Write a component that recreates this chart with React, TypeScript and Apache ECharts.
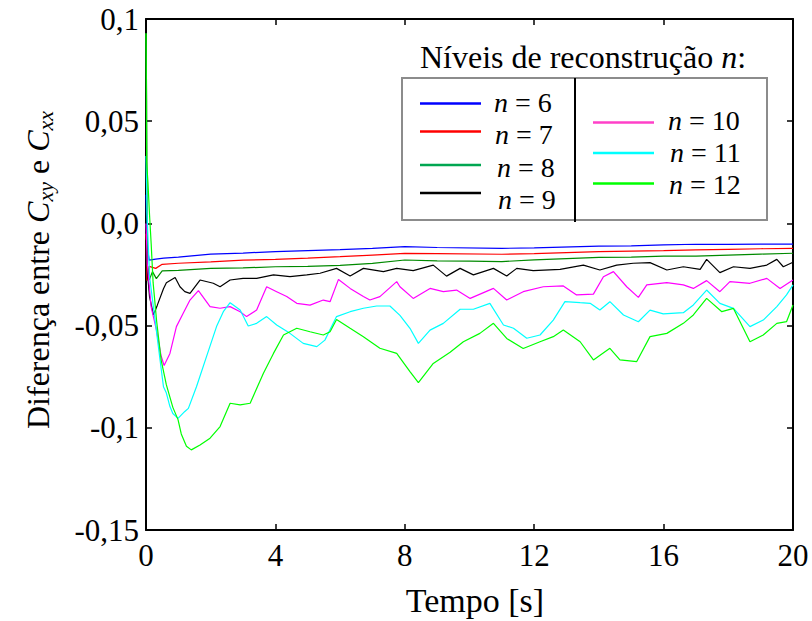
import React, { useEffect, useRef } from 'react';
import * as echarts from 'echarts';

// ---- data (time [s], difference) ----
const n6Data: [number, number][] = [
  [0, 0.014], [0.04, -0.012], [0.1, -0.018], [0.3, -0.0175], [0.55, -0.017], [1, -0.0165],
  [2, -0.015], [3, -0.0145], [4, -0.0138], [5, -0.0133], [6, -0.0128], [7, -0.0122],
  [8, -0.0114], [9, -0.0118], [11, -0.0122], [12, -0.012], [14, -0.0111], [15, -0.011],
  [16, -0.0105], [17, -0.0102], [18, -0.0103], [19, -0.0101], [20, -0.0101],
];
const n7Data: [number, number][] = [
  [0, -0.005], [0.03, -0.028], [0.1, -0.021], [0.3, -0.022], [0.5, -0.02], [1, -0.0195],
  [2, -0.0188], [3, -0.018], [4, -0.0176], [5, -0.017], [6, -0.0163], [7, -0.0155],
  [8, -0.0147], [9, -0.0148], [11, -0.0151], [12, -0.0148], [14, -0.0138], [16, -0.0133],
  [17, -0.013], [18, -0.0127], [19, -0.0124], [20, -0.0122],
];
const n8Data: [number, number][] = [
  [0, 0.093], [0.02, 0.06], [0.04, -0.02], [0.1, -0.0277], [0.2, -0.0236], [0.32, -0.027],
  [0.5, -0.0232], [1, -0.023], [2, -0.022], [3, -0.0218], [4, -0.0212], [5, -0.021],
  [6, -0.0205], [7, -0.0196], [8, -0.0179], [9, -0.0183], [10, -0.0185], [11, -0.0187],
  [12, -0.0178], [13, -0.0172], [14, -0.0166], [15, -0.0165], [16, -0.016], [17, -0.016],
  [18, -0.0155], [19, -0.015], [20, -0.0146],
];
const n9Data: [number, number][] = [
  [0, -0.008], [0.05, -0.025], [0.11, -0.036], [0.23, -0.0448], [0.35, -0.04], [0.54, -0.032],
  [0.63, -0.029], [0.9, -0.0265], [1.05, -0.031], [1.2, -0.0334], [1.36, -0.0342], [1.67, -0.0277],
  [2.08, -0.0293], [2.29, -0.031], [2.6, -0.0277], [3.0, -0.0269], [3.42, -0.0269], [3.94, -0.0252],
  [4.45, -0.026], [4.97, -0.0252], [5.38, -0.0244], [5.89, -0.022], [6.31, -0.0257], [6.72, -0.022],
  [7.34, -0.0236], [7.75, -0.022], [8.26, -0.0231], [8.88, -0.0204], [9.29, -0.0258], [9.71, -0.022],
  [10.12, -0.0252], [10.74, -0.022], [11.15, -0.0257], [11.46, -0.022], [11.97, -0.0231], [12.8, -0.0225],
  [13.52, -0.0204], [14.03, -0.0228], [14.55, -0.0204], [15.06, -0.0195], [15.58, -0.0192], [16.1, -0.0228],
  [16.61, -0.0212], [17.13, -0.0225], [17.33, -0.0176], [17.74, -0.0241], [18.16, -0.0212], [18.67, -0.022],
  [19.19, -0.0204], [19.5, -0.0176], [19.7, -0.0212], [20, -0.019],
];
const n10Data: [number, number][] = [
  [0, 0.0], [0.04, -0.02], [0.16, -0.041], [0.32, -0.052], [0.47, -0.065], [0.56, -0.0695],
  [0.74, -0.0636], [0.94, -0.0505], [1.15, -0.044], [1.36, -0.0375], [1.62, -0.0329], [1.98, -0.0407],
  [2.29, -0.0415], [2.6, -0.0407], [2.91, -0.0432], [3.11, -0.0456], [3.42, -0.0424], [3.73, -0.031],
  [4.04, -0.0334], [4.35, -0.0358], [4.66, -0.0391], [5.07, -0.04], [5.48, -0.0375], [5.69, -0.0383],
  [5.95, -0.0274], [6.31, -0.0318], [6.72, -0.0358], [6.92, -0.0375], [7.23, -0.0358], [7.75, -0.0285],
  [7.85, -0.031], [8.26, -0.0367], [8.78, -0.0318], [9.19, -0.0334], [9.6, -0.0326], [10.02, -0.0367],
  [10.74, -0.0318], [11.15, -0.0375], [11.66, -0.0334], [12.28, -0.031], [12.9, -0.0306], [13.31, -0.035],
  [13.83, -0.0346], [14.14, -0.0261], [14.45, -0.0236], [14.86, -0.031], [15.22, -0.0362], [15.48, -0.0301],
  [16.1, -0.029], [16.61, -0.0301], [16.92, -0.0318], [17.33, -0.028], [17.74, -0.0334], [18.05, -0.0285],
  [18.67, -0.0293], [19.19, -0.0269], [19.6, -0.0318], [20, -0.0277],
];
const n11Data: [number, number][] = [
  [0, 0.033], [0.03, 0.005], [0.11, -0.026], [0.27, -0.046], [0.42, -0.065], [0.54, -0.0799],
  [0.63, -0.083], [0.74, -0.0896], [0.83, -0.093], [0.99, -0.0954], [1.2, -0.092], [1.31, -0.0905],
  [1.56, -0.0799], [1.87, -0.0652], [2.18, -0.0505], [2.39, -0.0432], [2.6, -0.0388], [2.91, -0.0424],
  [3.16, -0.0502], [3.42, -0.0489], [3.73, -0.0456], [4.04, -0.0497], [4.45, -0.0538], [4.86, -0.0587],
  [5.28, -0.0603], [5.53, -0.0571], [5.89, -0.0456], [6.31, -0.0432], [6.72, -0.0415], [7.13, -0.0404],
  [7.54, -0.0404], [7.85, -0.045], [8.16, -0.0513], [8.42, -0.0587], [8.78, -0.0522], [9.19, -0.0489],
  [9.71, -0.042], [10.12, -0.042], [10.63, -0.0391], [11.05, -0.0497], [11.36, -0.0513], [11.77, -0.0562],
  [12.18, -0.0546], [12.59, -0.0473], [12.95, -0.0383], [13.42, -0.0388], [13.73, -0.0391], [14.03, -0.0424],
  [14.34, -0.0383], [14.76, -0.0448], [15.22, -0.0481], [15.58, -0.0424], [15.99, -0.0443], [16.61, -0.0437],
  [16.92, -0.0399], [17.33, -0.0326], [17.74, -0.0391], [18.16, -0.0416], [18.67, -0.0505], [19.08, -0.0473],
  [19.5, -0.0407], [19.8, -0.035], [20, -0.0301],
];
const n12Data: [number, number][] = [
  [0, 0.093], [0.02, 0.03], [0.06, 0.02], [0.11, 0.004], [0.16, -0.01], [0.22, -0.029],
  [0.33, -0.048], [0.47, -0.067], [0.63, -0.079], [0.83, -0.09], [0.99, -0.096], [1.09, -0.103],
  [1.25, -0.109], [1.4, -0.1108], [1.67, -0.1084], [1.98, -0.1051], [2.29, -0.0994], [2.6, -0.088],
  [2.91, -0.0888], [3.22, -0.088], [3.63, -0.0733], [3.94, -0.0636], [4.25, -0.0546], [4.66, -0.0513],
  [5.07, -0.053], [5.48, -0.0546], [5.69, -0.053], [5.89, -0.047], [6.31, -0.0513], [6.72, -0.0554],
  [7.23, -0.0611], [7.75, -0.0636], [8.16, -0.0725], [8.42, -0.0779], [8.88, -0.0685], [9.4, -0.063],
  [9.81, -0.0579], [10.32, -0.0538], [10.74, -0.0489], [11.15, -0.0563], [11.66, -0.0612], [12.18, -0.0579],
  [12.59, -0.0554], [12.9, -0.0522], [13.42, -0.0579], [13.83, -0.0668], [14.34, -0.0611], [14.65, -0.0668],
  [15.17, -0.0676], [15.58, -0.0554], [16.1, -0.0538], [16.61, -0.0489], [16.92, -0.0448], [17.33, -0.0367],
  [17.8, -0.0432], [18.16, -0.0416], [18.67, -0.0579], [19.08, -0.0546], [19.5, -0.0489], [19.8, -0.0481],
  [20, -0.0399],
];

const seriesNames = ['n = 6', 'n = 7', 'n = 8', 'n = 9', 'n = 10', 'n = 11', 'n = 12'];
const seriesLevels = ['6', '7', '8', '9', '10', '11', '12'];
const seriesColors = ['#0000ff', '#ff0000', '#008a00', '#000000', '#ff00ff', '#00ffff', '#00ff00'];
const legendColors = ['#0000ff', '#ff0000', '#00a651', '#000000', '#ff40c8', '#00ffff', '#00ff00'];
const allData = [n6Data, n7Data, n8Data, n9Data, n10Data, n11Data, n12Data];

const yTickLabels = ['-0,15', '-0,1', '-0,05', '0,0', '0,05', '0,1'];

const FONT = 'Liberation Serif';

export default function App() {
  const ref = useRef<HTMLDivElement>(null);

  useEffect(() => {
    if (!ref.current) return;
    const chart = echarts.init(ref.current, undefined, { renderer: 'svg' });

    const axisLine = { show: true, onZero: false, lineStyle: { color: '#000', width: 2 } };
    const tick = { show: true, inside: true, length: 6, lineStyle: { color: '#000', width: 1.5 } };

    // legend positions
    const leftLineY = [103.5, 131.5, 165, 193];
    const leftTextY = [102, 134, 167, 199];
    const leftTextX = [494, 495, 497, 498];
    const rightLineY = [122.5, 153, 183.5];
    const rightTextY = [120, 152, 184];
    const rightTextX = [668, 670, 669];

    const legendEls: any[] = [];
    for (let i = 0; i < 7; i++) {
      const isLeft = i < 4;
      const j = isLeft ? i : i - 4;
      const ly = isLeft ? leftLineY[j] : rightLineY[j];
      const x1 = isLeft ? 420 : 593;
      const x2 = isLeft ? 481 : 654;
      legendEls.push({
        type: 'line',
        shape: { x1, y1: ly, x2, y2: ly },
        style: { stroke: legendColors[i], lineWidth: 2.5 },
        z: 101,
      });
      legendEls.push({
        type: 'text',
        x: isLeft ? leftTextX[j] : rightTextX[j],
        y: isLeft ? leftTextY[j] : rightTextY[j],
        style: {
          text: '{i|n} = ' + seriesLevels[i],
          fontFamily: FONT,
          fontSize: 28,
          lineHeight: 24,
          fill: '#000',
          align: 'left',
          verticalAlign: 'middle',
          rich: { i: { fontStyle: 'italic', fontFamily: FONT, fontSize: 28, lineHeight: 24, fill: '#000' } },
        },
        z: 101,
      });
    }

    chart.setOption({
      animation: false,
      backgroundColor: '#fff',
      grid: { left: 146, top: 19, width: 647, height: 511, containLabel: false, outerBoundsMode: 'none' },
      xAxis: [
        {
          type: 'value', min: 0, max: 20, interval: 4, position: 'bottom',
          axisLine, axisTick: tick, splitLine: { show: false },
          axisLabel: { fontFamily: FONT, fontSize: 31, color: '#000', margin: 10 },
        },
        {
          type: 'value', min: 0, max: 20, interval: 4, position: 'top',
          axisLine, axisTick: tick, splitLine: { show: false }, axisLabel: { show: false },
        },
      ],
      yAxis: [
        {
          type: 'value', min: -0.15, max: 0.1, interval: 0.05, position: 'left',
          axisLine, axisTick: tick, splitLine: { show: false },
          axisLabel: {
            fontFamily: FONT, fontSize: 31, color: '#000', margin: 7,
            formatter: (v: number) => yTickLabels[Math.round((v + 0.15) / 0.05)] ?? '',
          },
        },
        {
          type: 'value', min: -0.15, max: 0.1, interval: 0.05, position: 'right',
          axisLine, axisTick: tick, splitLine: { show: false }, axisLabel: { show: false },
        },
      ],
      series: allData.map((d, i) => ({
        name: seriesNames[i],
        type: 'line',
        xAxisIndex: 0,
        yAxisIndex: 0,
        data: d,
        showSymbol: false,
        symbol: 'none',
        clip: true,
        lineStyle: { color: seriesColors[i], width: 1.2 },
        itemStyle: { color: seriesColors[i] },
        z: 2 + i,
      })),
      graphic: [
        {
          type: 'text',
          x: 475,
          y: 600,
          style: {
            text: 'Tempo [s]', fontFamily: FONT, fontSize: 34, fill: '#000',
            align: 'center', verticalAlign: 'middle',
          },
        },
        {
          type: 'text',
          x: 38,
          y: 270,
          rotation: Math.PI / 2,
          style: {
            text: 'Diferença entre {c|C}{s|xy} e {c|C}{s|xx}',
            fontFamily: FONT, fontSize: 32, lineHeight: 36, fill: '#000',
            align: 'center', verticalAlign: 'middle',
            rich: {
              c: { fontStyle: 'italic', fontFamily: FONT, fontSize: 32, lineHeight: 36, fill: '#000' },
              s: { fontStyle: 'italic', fontFamily: FONT, fontSize: 22, lineHeight: 22, verticalAlign: 'bottom', fill: '#000' },
            },
          },
        },
        {
          type: 'text',
          x: 583,
          y: 57,
          style: {
            text: 'Níveis de reconstrução {i|n}:', fontFamily: FONT, fontSize: 32, fill: '#000',
            align: 'center', verticalAlign: 'middle',
            rich: { i: { fontStyle: 'italic', fontFamily: FONT, fontSize: 32, fill: '#000' } },
          },
          z: 100,
        },
        {
          type: 'rect',
          shape: { x: 402, y: 78, width: 365, height: 142 },
          style: { fill: '#fff', stroke: '#8c8c8c', lineWidth: 2 },
          z: 100,
        },
        {
          type: 'line',
          shape: { x1: 575, y1: 78, x2: 575, y2: 222 },
          style: { stroke: '#000', lineWidth: 2 },
          z: 101,
        },
        ...legendEls,
      ],
    });

    return () => chart.dispose();
  }, []);

  return (
    <div
      ref={ref}
      style={{ position: 'absolute', left: 0, top: 0, width: 812, height: 621, background: '#fff' }}
    />
  );
}
